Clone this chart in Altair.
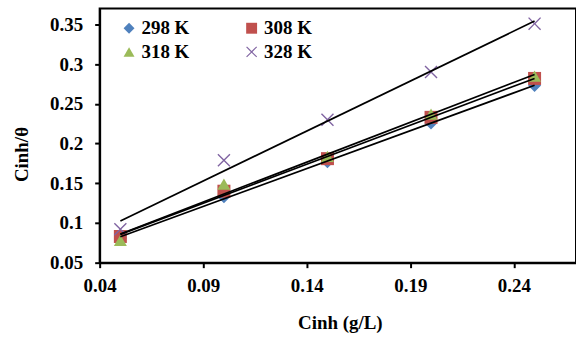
import altair as alt
import pandas as pd

conc = [0.05, 0.10, 0.15, 0.20, 0.25]
temps = ["298 K", "308 K", "318 K", "328 K"]
y298 = [0.081, 0.133, 0.177, 0.226, 0.273]
y308 = [0.083, 0.140, 0.181, 0.233, 0.282]
y318 = [0.078, 0.149, 0.184, 0.237, 0.285]
y328 = [0.092, 0.179, 0.230, 0.290, 0.351]
series = [y298, y308, y318, y328]

colors = ["#4F81BD", "#C0504D", "#9BBB59", "#8064A2"]
xpath = ("M-1,-0.85L-0.85,-1L0,-0.15L0.85,-1L1,-0.85L0.15,0L1,0.85L0.85,1"
         "L0,0.15L-0.85,1L-1,0.85L-0.15,0Z")
shapes = ["diamond", "square", "triangle-up", xpath]

rows = []
for t, ys in zip(temps, series):
    for c, v in zip(conc, ys):
        rows.append({"T": t, "Cinh": c, "ratio": v})
df = pd.DataFrame(rows)

FONT = "Liberation Serif"

x_enc = alt.X("Cinh:Q", scale=alt.Scale(domain=[0.04, 0.27], nice=False, zero=False),
              axis=alt.Axis(values=[0.04, 0.09, 0.14, 0.19, 0.24], format=".2~f",
                            title="Cinh (g/L)", titleX=241, titleY=60, labelFlush=False,
                            titleBaseline="middle", labelPadding=9))
y_enc = alt.Y("ratio:Q", scale=alt.Scale(domain=[0.05, 0.37], nice=False, zero=False),
              axis=alt.Axis(values=[0.05, 0.1, 0.15, 0.2, 0.25, 0.3, 0.35], format=".2~f",
                            title="Cinh/θ", titleX=-78, titleY=146, titleAngle=270, labelFlush=False,
                            titleAlign="center", titleBaseline="middle", labelPadding=12))

points = alt.Chart(df).mark_point(filled=True, opacity=1, size=170).encode(
    x=x_enc,
    y=y_enc,
    color=alt.Color("T:N", scale=alt.Scale(domain=temps, range=colors),
                    legend=alt.Legend(title=None, orient="none", legendX=20, legendY=10,
                                      columns=2, columnPadding=52, rowPadding=4,
                                      direction="horizontal",
                                      labelFontSize=19, labelFont=FONT, labelFontWeight="bold",
                                      symbolSize=120, labelOffset=3, padding=0)),
    shape=alt.Shape("T:N", scale=alt.Scale(domain=temps, range=shapes), legend=None),
)

lines = alt.Chart(df).transform_regression(
    "Cinh", "ratio", groupby=["T"]
).mark_line(color="black", strokeWidth=1.7).encode(
    x="Cinh:Q", y="ratio:Q", detail="T:N"
)

chart = alt.layer(points, lines).properties(
    width=478, height=255,
    autosize=alt.AutoSizeParams(type="none"),
    padding={"left": 100, "top": 8, "right": 0, "bottom": 75},
).configure_view(stroke="black", strokeWidth=2).configure_axis(
    grid=False, domainColor="black", domainWidth=2, tickColor="black", tickWidth=2,
    tickSize=5, labelFont=FONT, labelFontSize=19, labelFontWeight="bold", labelColor="black",
    titleFont=FONT, titleFontSize=19, titleFontWeight="bold", titleColor="black"
).configure_legend(symbolStrokeWidth=0)

chart.save("out.html", embed_options={"renderer": "svg", "actions": False})
